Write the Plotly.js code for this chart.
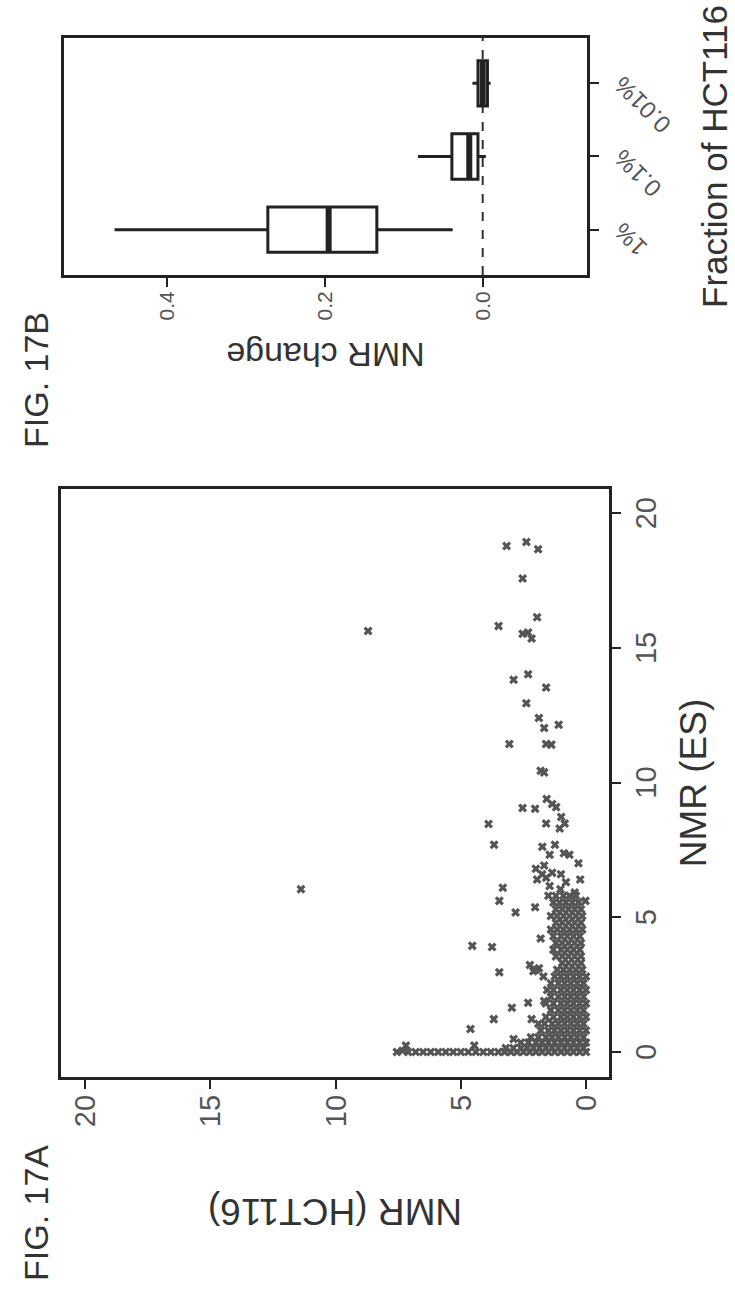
<!DOCTYPE html>
<html><head><meta charset="utf-8">
<script src="https://cdn.plot.ly/plotly-3.0.1.min.js"></script>
<style>
html,body{margin:0;padding:0;width:735px;height:1295px;overflow:hidden;background:#fff;}
#chart{position:absolute;left:0;top:0;width:1295px;height:735px;transform-origin:0 0;transform:translate(0px,1295px) rotate(-90deg);}
</style></head><body><div id="chart"></div>
<script>
// FIG. 17A scatter: [NMR (ES), NMR (HCT116)]
const nmrPairs = [
 [18.78,3.17],[18.93,2.38],[18.66,1.91],[17.58,2.53],[16.14,1.95],[15.81,3.49],[15.53,2.53],[15.35,2.17],[15.57,2.31],[15.63,8.70],
 [13.82,2.89],[14.02,2.31],[13.53,1.59],[12.95,2.38],[12.40,1.88],[12.03,1.67],[12.15,1.09],[11.43,3.06],[11.43,1.59],[11.41,1.38],[10.44,1.81],[10.38,1.67],
 [6.04,11.38],[9.06,2.53],[9.03,2.03],[9.39,1.57],[9.21,1.35],[9.09,1.19],[8.46,3.89],[8.48,1.59],[8.72,0.99],[8.48,0.85],[8.30,1.05],
 [7.69,3.67],[7.62,1.74],[7.69,1.24],[7.32,1.45],[7.38,0.88],[7.32,0.66],[6.92,1.67],[7.01,0.30],[6.40,1.95],[6.47,1.59],[6.65,1.35],[6.40,0.23],
 [6.10,3.32],[6.16,1.45],[6.04,1.02],[5.92,0.45],[5.61,3.46],[5.61,0.02],[5.18,2.81],[5.37,2.03],[3.94,4.54],[3.90,3.75],[4.21,1.81],
 [2.96,3.46],[3.23,2.24],[3.11,1.88],[3.0,2.1],[1.64,2.96],[1.83,2.31],[1.89,1.67],[0.85,4.61],[1.22,3.68],[1.22,2.17],[0.48,2.89],[0.24,4.46],[0.24,7.19],[0.0,7.55],[0.05,7.33],
 [0,0],[0,0.25],[0,0.5],[0,0.75],[0,1],[0,1.25],[0,1.5],[0,1.75],[0,2],[0,2.25],[0,2.5],[0,2.75],[0,3],[0,3.25],[0,3.5],[0,3.8],[0,4.1],[0,4.4],[0,4.7],[0,5],[0,5.3],[0,5.6],[0,5.9],[0,6.2],[0,6.5],[0,6.8],[0,7.1],
 [0.15,0.1],[0.15,0.35],[0.15,0.6],[0.15,0.85],[0.15,1.1],[0.15,1.35],[0.15,1.6],[0.15,1.85],[0.15,2.1],[0.15,2.35],[0.15,2.6],[0.15,2.9],[0.15,3.2],
 [0.35,0],[0.35,0.25],[0.35,0.5],[0.35,0.75],[0.35,1],[0.35,1.25],[0.35,1.5],[0.35,1.75],[0.35,2],[0.35,2.3],[0.35,2.6],
 [0.55,0.1],[0.55,0.35],[0.55,0.6],[0.55,0.85],[0.55,1.1],[0.55,1.35],[0.55,1.6],[0.55,1.9],[0.55,2.2],
 [0.8,0],[0.8,0.25],[0.8,0.5],[0.8,0.75],[0.8,1],[0.8,1.25],[0.8,1.5],[0.8,1.8],
 [1.05,0.1],[1.05,0.35],[1.05,0.6],[1.05,0.85],[1.05,1.1],[1.05,1.35],[1.05,1.65],[1.05,1.9],
 [1.3,0],[1.3,0.25],[1.3,0.5],[1.3,0.75],[1.3,1],[1.3,1.3],[1.3,1.6],
 [1.55,0.1],[1.55,0.35],[1.55,0.6],[1.55,0.85],[1.55,1.1],[1.55,1.4],
 [1.8,0],[1.8,0.25],[1.8,0.5],[1.8,0.75],[1.8,1],[1.8,1.3],[1.8,1.6],
 [2.05,0.1],[2.05,0.35],[2.05,0.6],[2.05,0.85],[2.05,1.1],[2.05,1.4],
 [2.3,0],[2.3,0.25],[2.3,0.5],[2.3,0.75],[2.3,1],[2.3,1.3],[2.3,1.55],
 [2.55,0.1],[2.55,0.35],[2.55,0.6],[2.55,0.85],[2.55,1.1],[2.55,1.4],
 [2.8,0],[2.8,0.25],[2.8,0.5],[2.8,0.75],[2.8,1],[2.8,1.25],[2.8,1.7],
 [3.05,0.15],[3.05,0.4],[3.05,0.65],[3.05,0.9],[3.05,1.15],[3.05,2.0],
 [3.3,0.2],[3.3,0.45],[3.3,0.7],[3.3,0.95],
 [3.55,0.2],[3.55,0.45],[3.55,0.7],[3.55,0.95],[3.55,1.2],
 [3.8,0.25],[3.8,0.5],[3.8,0.75],[3.8,1.0],[3.8,1.3],
 [4.05,0.2],[4.05,0.45],[4.05,0.7],[4.05,0.95],[4.05,1.2],
 [4.3,0.25],[4.3,0.5],[4.3,0.75],[4.3,1.0],[4.3,1.3],
 [4.55,0.15],[4.55,0.4],[4.55,0.65],[4.55,0.9],[4.55,1.15],[4.55,1.4],
 [4.8,0.2],[4.8,0.45],[4.8,0.7],[4.8,0.95],[4.8,1.2],
 [5.05,0.15],[5.05,0.4],[5.05,0.65],[5.05,0.9],[5.05,1.15],[5.05,1.4],
 [5.3,0.2],[5.3,0.45],[5.3,0.7],[5.3,0.95],[5.3,1.2],
 [5.55,0.3],[5.55,0.55],[5.55,0.8],[5.55,1.05],[5.55,1.3],
 [5.8,0.4],[5.8,0.65],[5.8,0.9],[5.8,1.2],[5.8,1.5],
 [6.3,0.8],[6.6,1.0],[6.6,1.75],[6.8,2.0]
];
const nmrES = nmrPairs.map(p => p[0]);
const nmrHCT116 = nmrPairs.map(p => p[1]);
const scatterTicks = [0, 5, 10, 15, 20];

// FIG. 17B box plot (precomputed statistics)
const fractions = ['1%', '0.1%', '0.01%'];
const fractionPos = [1, 2, 3];
const boxLower  = [0.038, -0.004, -0.010];
const boxQ1     = [0.134,  0.006, -0.006];
const boxMedian = [0.195,  0.017,  0.000];
const boxQ3     = [0.272,  0.039,  0.006];
const boxUpper  = [0.466,  0.082,  0.013];
const changeTicks = [0, 0.2, 0.4];
const changeTickText = ['0.0', '0.2', '0.4'];

const F = 'Liberation Sans, Arial, sans-serif';
const ink = '#222';
const tickInk = '#555';

const data = [
  {type:'scatter', mode:'markers', x:nmrES, y:nmrHCT116, xaxis:'x', yaxis:'y',
   marker:{symbol:'x', size:8, color:'#555555'}, hoverinfo:'skip'},
  {type:'box', x:fractionPos, q1:boxQ1, median:boxMedian, q3:boxQ3,
   lowerfence:boxLower, upperfence:boxUpper, xaxis:'x2', yaxis:'y2',
   width:0.62, whiskerwidth:0, fillcolor:'#ffffff', line:{color:ink, width:3},
   boxpoints:false, hoverinfo:'skip'}
];

const shapes = [
  {type:'line', xref:'x2 domain', yref:'y2', x0:0, x1:1, y0:0, y1:0,
   line:{color:'#333', width:2, dash:'dash'}, layer:'below'}
];
boxMedian.forEach((m, i) => {
  shapes.push({type:'line', xref:'x2', yref:'y2', x0:fractionPos[i]-0.31, x1:fractionPos[i]+0.31,
    y0:m, y1:m, line:{color:ink, width:6}});
});

const axisBase = {showline:true, mirror:true, linewidth:3, linecolor:ink, showgrid:false,
  zeroline:false, ticks:'outside', ticklen:9, tickwidth:2, tickcolor:ink, automargin:false};

const layout = {
  width:1295, height:735, margin:{l:0, r:0, t:0, b:0},
  paper_bgcolor:'#fff', plot_bgcolor:'#fff', showlegend:false,
  font:{family:F, color:'#333'},
  xaxis: Object.assign({}, axisBase, {domain:[0.1683,0.6224], range:[-0.93,20.9], anchor:'y',
    tickvals:scatterTicks, tickfont:{size:29, color:tickInk, family:F},
    title:{text:'NMR (ES)', font:{size:37, color:'#333', family:F}, standoff:20}}),
  yaxis: Object.assign({}, axisBase, {domain:[0.1714,0.9170], range:[-0.92,20.96], anchor:'x',
    tickvals:scatterTicks, tickfont:{size:29, color:tickInk, family:F},
    title:{text:'NMR (HCT116)', font:{size:37, color:'#333', family:F}, standoff:60}}),
  xaxis2: Object.assign({}, axisBase, {domain:[0.7876,0.9707], range:[0.38,3.62], anchor:'y2',
    tickvals:fractionPos, ticktext:fractions, tickangle:-45, tickfont:{size:24, color:tickInk, family:F},
    title:{text:'Fraction of HCT116', font:{size:35, color:'#333', family:F}, standoff:28}}),
  yaxis2: Object.assign({}, axisBase, {domain:[0.2014,0.9129], range:[-0.132,0.53], anchor:'x2',
    tickvals:changeTicks, ticktext:changeTickText, tickfont:{size:21, color:tickInk, family:F},
    title:{text:'NMR change', font:{size:34, color:'#333', family:F}, standoff:12}}),
  shapes: shapes,
  annotations: [
    {text:'FIG. 17A', xref:'paper', yref:'paper', x:0.0093, y:0.951, xanchor:'left', yanchor:'middle',
     showarrow:false, font:{size:34, color:'#333', family:F}},
    {text:'FIG. 17B', xref:'paper', yref:'paper', x:0.6525, y:0.951, xanchor:'left', yanchor:'middle',
     showarrow:false, font:{size:34, color:'#333', family:F}}
  ]
};

Plotly.newPlot('chart', data, layout, {staticPlot:true, displayModeBar:false});
</script></body></html>
